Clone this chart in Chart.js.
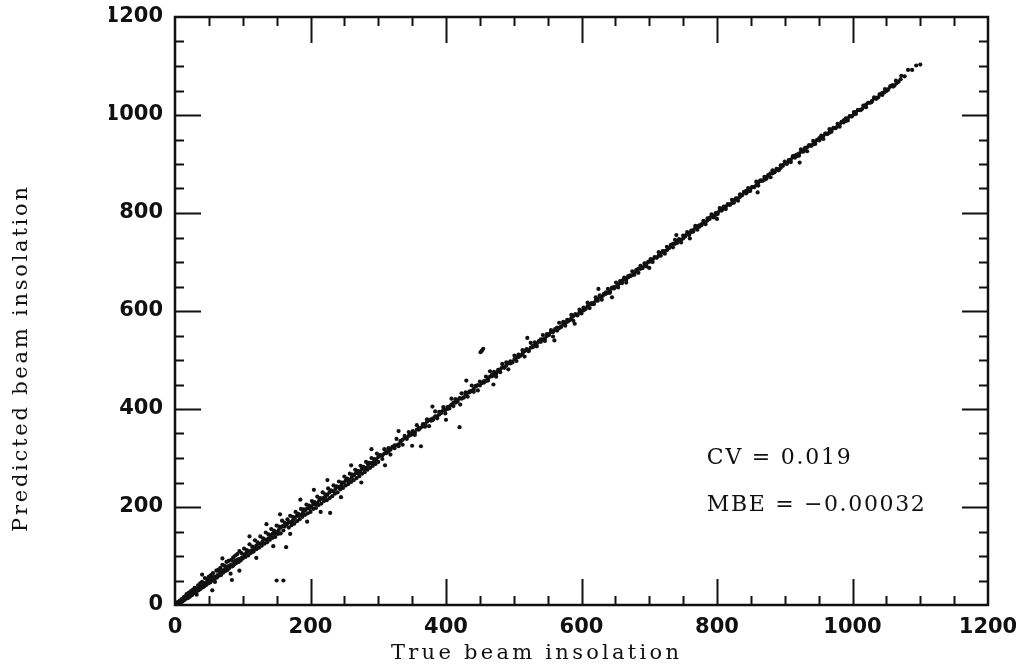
<!DOCTYPE html>
<html>
<head>
<meta charset="utf-8">
<script src="https://cdn.jsdelivr.net/npm/chart.js@4.4.0/dist/chart.umd.min.js"></script>
<style>
	html, body { margin: 0; padding: 0; background: #fff; }
	canvas { display: block; }
</style>
</head>
<body>
<canvas id="scatter" width="1016" height="667"></canvas>
<script>
// [true beam insolation, predicted beam insolation]
var bandLow = [
	[1,2],[3,1],[4,6],[5,3],[7,9],[8,4],[10,12],[11,7],[13,16],[14,10],[16,13],[17,22],[19,14],[20,25],[22,17],
	[23,28],[25,20],[26,31],[28,24],[29,35],[31,26],[32,21],[34,40],[35,30],[37,44],[38,33],[40,47],[41,36],
	[43,38],[44,55],[46,41],[47,53],[49,44],[50,58],[52,46],[53,61],[55,50],[56,65],[58,52],[59,47],[61,70],
	[62,56],[64,72],[65,60],[67,76],[68,61],[70,82],[71,66],[73,80],[74,69],[76,88],[77,71],[79,90],[80,75],
	[82,64],[83,92],[85,79],[86,97],[88,83],[89,101],[91,86],[92,104],[94,88],[95,110],[97,91],[98,106],
	[100,95],[102,115],[104,98],[106,112],[108,101],[110,124],[112,106],[114,119],[116,109],[118,132],
	[120,114],[122,128],[124,117],[126,140],[128,121],[130,136],[132,125],[134,148],[136,128],[138,144],
	[140,133],[142,155],[144,137],[146,152],[148,139],[150,162],[152,145],[154,160],[156,146],[158,172],
	[160,152],[162,168],[166,175],[168,158],[170,182],[172,163],[174,180],[176,166],[178,190],[180,171],
	[182,186],[184,175],[186,196],[188,180],[190,195],[192,184],[194,205],[196,187],[198,203],[200,190],
	[202,212],[204,196],[206,210],[208,198],[210,221],[212,204],[214,218],[216,207],[218,230],[220,212],
	[222,226],[224,214],[226,238],[228,218],[230,234],[232,222],[234,244],[236,227],[238,242],[240,230],
	[242,252],[244,236],[246,250],[248,239],[250,262],[252,244],[254,258],[256,247],[258,268],[260,251],
	[262,266],[264,255],[266,276],[268,259],[270,274],[272,263],[274,284],[276,268],[278,282],[280,271],
	[282,292],[284,276],[286,290],[288,280],[290,300],[292,284],[294,298],[296,288],[298,309],[300,292]
];
var bandMid = [
	[303,306],[306,298],[309,318],[312,310],[315,320],[318,307],[321,322],[324,320],[327,339],[330,324],
	[333,335],[336,327],[339,345],[342,339],[345,353],[348,347],[351,355],[354,347],[357,367],[360,358],
	[366,369],[369,364],[372,379],[375,365],[378,379],[381,378],[384,395],[387,381],[390,394],[393,392],
	[396,404],[399,391],[402,404],[405,401],[408,421],[411,406],[414,420],[417,415],[421,409],[423,432],
	[426,423],[429,434],[432,425],[435,436],[438,448],[441,435],[444,447],[447,438],[450,456],[456,454],
	[459,466],[462,458],[465,477],[468,467],[471,476],[474,466],[477,480],[480,475],[483,492],[486,484],
	[489,495],[492,481],[495,497],[498,495],[501,509],[504,498],[507,511],[510,509],[513,520],[516,507],
	[519,522],[522,518],[525,535],[528,526],[531,536],[534,528],[537,538],[540,537],[543,551],[546,539],
	[549,553],[552,551],[555,561],[558,548],[561,563],[564,560],[567,576],[570,568],[573,578],[576,570],
	[579,582],[582,581],[585,592],[588,580],[591,593],[594,591],[597,603],[600,595],[603,607],[606,604],
	[609,617],[612,606],[615,616],[618,614],[621,628],[624,621],[627,632],[630,623],[633,635],[636,635],
	[639,645],[642,637],[645,648],[648,646],[651,658],[654,648],[657,661],[660,657],[663,668],[666,658],
	[669,671],[672,671],[675,681],[678,674],[681,684],[684,678],[687,692],[690,688],[693,697],[696,691],[699,700]
];
var bandHigh = [
	[702,706],[705,700],[708,710],[711,709],[714,720],[717,713],[720,721],[723,717],[726,731],[729,728],
	[732,735],[735,730],[738,745],[741,739],[744,746],[747,740],[750,754],[753,752],[756,761],[759,755],
	[762,764],[765,762],[768,774],[771,766],[774,775],[777,775],[780,784],[783,777],[786,789],[789,788],
	[792,797],[795,791],[798,800],[801,798],[804,810],[807,805],[810,813],[813,808],[816,817],[819,817],
	[822,827],[825,821],[828,830],[831,825],[834,838],[837,836],[840,843],[843,840],[846,851],[849,845],
	[852,853],[855,853],[858,864],[861,856],[864,866],[867,866],[870,874],[873,870],[876,878],[879,873],
	[882,887],[885,883],[888,889],[891,887],[894,897],[897,896],[900,905],[903,900],[906,908],[909,904],
	[912,916],[915,913],[918,919],[921,917],[924,930],[927,926],[930,933],[933,926],[936,938],[939,937],
	[942,947],[945,941],[948,949],[951,948],[954,958],[957,951],[960,962],[963,962],[966,971],[969,966],
	[972,974],[975,973],[978,982],[981,976],[984,985],[987,985],[990,993],[993,989],[996,998],[999,998],
	[1002,1006],[1005,1002],[1008,1010],[1012,1010],[1016,1019],[1020,1016],[1024,1025],[1028,1026],
	[1032,1036],[1036,1035],[1040,1042],[1044,1041],[1048,1053],[1052,1051],[1056,1059],[1060,1058],
	[1064,1070],[1068,1068],[1072,1080],[1077,1079],[1082,1092],[1088,1092],[1094,1101],[1100,1103]
];
// points sitting almost on the diagonal, they make the dark core of the band
var bandCore = [
	[6,5],[12,11],[18,19],[24,22],[30,31],[36,35],[42,43],[48,47],[54,55],[60,58],[66,67],[72,71],[78,79],
	[84,83],[90,91],[96,94],[102,103],[108,109],[114,112],[120,121],[126,125],[132,134],[138,136],[144,145],
	[150,149],[156,158],[162,160],[168,169],[174,173],[180,182],[186,184],[192,193],[198,197],[204,206],
	[210,208],[216,217],[222,221],[228,230],[234,232],[240,241],[246,245],[252,254],[258,256],[264,265],
	[270,269],[276,278],[282,280],[288,289],[294,293],[300,302],[306,305],[312,313],[318,317],[324,326],
	[330,328],[336,337],[342,341],[348,350],[354,352],[360,361],[366,365],[372,374],[378,376],[384,385],
	[390,389],[396,398],[402,400],[408,409],[414,413],[420,422],[426,424],[432,433],[438,437],[444,446],
	[450,448],[456,457],[462,461],[468,470],[474,472],[480,481],[486,485],[492,494],[498,496],[504,505],
	[510,509],[516,518],[522,520],[528,529],[534,533],[540,542],[546,544],[552,553],[558,557],[564,566],
	[570,568],[576,577],[582,581],[588,590],[594,592],[600,601],[606,605],[612,614],[618,616],[624,625],
	[630,629],[636,638],[642,640],[648,649],[654,653],[660,662],[666,664],[672,673],[678,677],[684,686],
	[690,688],[696,697],[702,701],[708,709],[714,713],[720,722],[726,724],[732,733],[738,737],[744,746],
	[750,748],[756,757],[762,761],[768,770],[774,772],[780,781],[786,785],[792,794],[798,796],[804,805],
	[810,809],[816,818],[822,820],[828,829],[834,833],[840,842],[846,844],[852,853],[858,857],[864,866],
	[870,868],[876,877],[882,881],[888,890],[894,892],[900,901],[906,905],[912,914],[918,916],[924,925],
	[930,929],[936,938],[942,940],[948,949],[954,953],[960,962],[966,964],[972,973],[978,977],[984,986],
	[990,988],[996,997],[1002,1001],[1008,1010],[1014,1012],[1020,1021],[1026,1025],[1032,1034],
	[1038,1036],[1044,1045],[1050,1049],[1056,1058],[1062,1060]
];
var bandCore2 = [
	[3,4],[9,8],[15,17],[21,21],[27,25],[33,34],[39,38],[45,45],[51,53],[57,57],[63,61],[69,70],[75,74],
	[81,81],[87,89],[93,93],[99,97],[105,106],[111,110],[117,117],[123,125],[129,129],[135,133],[141,142],
	[147,146],[153,153],[159,161],[165,165],[171,169],[177,178],[183,182],[189,189],[195,197],[201,201],
	[207,205],[213,214],[219,218],[225,225],[231,233],[237,237],[243,241],[249,250],[255,254],[261,261],
	[267,269],[273,273],[279,277],[285,286],[291,290],[297,297],[303,305],[309,309],[315,313],[321,322],
	[327,326],[333,333],[339,341],[345,345],[351,349],[357,358],[363,362],[369,369],[375,377],[381,381],
	[387,385],[393,394],[399,398],[405,405],[411,413],[417,417],[423,421],[429,430],[435,434],[441,441],
	[447,449],[453,453],[459,457],[465,466],[471,470],[477,477],[483,485],[489,489],[495,493],[501,502],
	[507,506],[513,513],[519,521],[525,525],[531,529],[537,538],[543,542],[549,549],[555,557],[561,561],
	[567,565],[573,574],[579,578],[585,585],[591,593],[597,597],[603,601],[609,610],[615,614],[621,621],
	[627,629],[633,633],[639,637],[645,646],[651,650],[657,657],[663,665],[669,669],[675,673],[681,682],
	[687,686],[693,693],[699,701],[705,705],[711,709],[717,718],[723,722],[729,729],[735,737],[741,741],
	[747,745],[753,754],[759,758],[765,765],[771,773],[777,777],[783,781],[789,790],[795,794],[801,801],
	[807,809],[813,813],[819,817],[825,826],[831,830],[837,837],[843,845],[849,849],[855,853],[861,862],
	[867,866],[873,873],[879,881],[885,885],[891,889],[897,898],[903,902],[909,909],[915,917],[921,921],
	[927,925],[933,934],[939,938],[945,945],[951,953],[957,957],[963,961],[969,970],[975,974],[981,981],
	[987,989],[993,993],[999,997],[1005,1006],[1011,1010],[1017,1017],[1023,1025],[1029,1029],[1035,1033],
	[1041,1042],[1047,1046],[1053,1053],[1059,1061],[1065,1065],[1071,1073]
];
var scatterWide = [
	[40,62],[55,30],[70,95],[95,70],[110,140],[120,96],[135,165],[145,120],[155,185],[170,145],[185,215],
	[195,170],[205,235],[215,190],[225,255],[245,220],[260,285],[275,250],[290,318],[310,285],[330,355],
	[350,325],[380,405],[400,378],[430,458],[470,450],[520,545],[560,540],[625,645],[740,755],[800,788]
];
var outliers = [
	[84,51],[150,50],[160,50],[164,118],[229,188],[363,324],[420,363],[453,519],[455,523],[451,516],
	[590,574],[645,628],[700,688],[760,748],[860,842],[922,903]
];

var xTickLabels = ["0","200","400","600","800","1000","1200"];
var yTickLabels = ["0","200","400","600","800","1000","1200"];
var xTitle = "True beam insolation";
var yTitle = "Predicted beam insolation";
var notes = [
	{ text: "CV = 0.019", x: 785, y: 300 },
	{ text: "MBE = \u22120.00032", x: 785, y: 204 }
];

var allPoints = bandLow.concat(bandMid, bandHigh, bandCore, bandCore2, scatterWide, outliers)
	.map(p => ({ x: p[0], y: p[1] }));

// spread a text to a given width
function fillSpaced(ctx, text, x, y, width) {
	ctx.letterSpacing = '0px';
	let w = ctx.measureText(text).width;
	let sp = (width - w) / (text.length - 1);
	ctx.letterSpacing = sp + 'px';
	ctx.fillText(text, x, y);
	ctx.letterSpacing = '0px';
}

// ticks pointing inward on all four sides, plus the frame and texts
const frameTicks = {
	id: 'frameTicks',
	afterDraw(chart) {
		const ctx = chart.ctx, a = chart.chartArea;
		const xs = chart.scales.x, ys = chart.scales.y;
		ctx.save();
		ctx.strokeStyle = '#111';
		for (let v = 50; v < 1200; v += 50) {
			let major = v % 200 == 0;
			let len = major ? 26 : 9;
			ctx.lineWidth = 2;
			let px = Math.round(xs.getPixelForValue(v)) + 0.5;
			let py = Math.round(ys.getPixelForValue(v)) + 0.5;
			ctx.beginPath();
			ctx.moveTo(px, a.bottom); ctx.lineTo(px, a.bottom - len);
			ctx.moveTo(px, a.top); ctx.lineTo(px, a.top + len);
			ctx.moveTo(a.left, py); ctx.lineTo(a.left + len, py);
			ctx.moveTo(a.right, py); ctx.lineTo(a.right - len, py);
			ctx.stroke();
		}
		ctx.lineWidth = 2.5;
		ctx.strokeRect(a.left, a.top, a.right - a.left, a.bottom - a.top);

		ctx.fillStyle = '#111';
		ctx.font = '22px "DejaVu Serif"';
		ctx.textBaseline = 'middle';
		ctx.textAlign = 'left';
		fillSpaced(ctx, notes[0].text, xs.getPixelForValue(notes[0].x), ys.getPixelForValue(notes[0].y), 144);
		fillSpaced(ctx, notes[1].text, xs.getPixelForValue(notes[1].x), ys.getPixelForValue(notes[1].y), 218);

		ctx.font = '21px "DejaVu Serif"';
		fillSpaced(ctx, xTitle, 391, 654, 288);
		ctx.translate(22, 532);
		ctx.rotate(-Math.PI / 2);
		fillSpaced(ctx, yTitle, 0, 0, 345);
		ctx.restore();
	}
};

const ctxScatter = document.getElementById('scatter').getContext('2d');
const scatterChart = new Chart(ctxScatter, {
	type: 'scatter',
	data: {
		datasets: [{
			label: 'beam',
			data: allPoints,
			backgroundColor: '#111',
			borderColor: '#111',
			pointRadius: 2.1,
			pointBorderWidth: 0
		}]
	},
	options: {
		responsive: false,
		animation: false,
		layout: {
			padding: { left: 109, right: 28, top: 17, bottom: 22 }
		},
		plugins: {
			legend: { display: false },
			tooltip: { enabled: false }
		},
		scales: {
			x: {
				type: 'linear',
				min: 0,
				max: 1200,
				afterFit: (s) => { s.height = 40; s.paddingLeft = 0; s.paddingRight = 0; },
				grid: { display: false, drawTicks: false },
				border: { display: false },
				ticks: {
					stepSize: 200,
					padding: 10,
					maxRotation: 0,
					color: '#111',
					font: { family: '"DejaVu Sans"', size: 21, weight: 'bold' },
					callback: (v) => xTickLabels[v / 200]
				}
			},
			y: {
				type: 'linear',
				min: 0,
				max: 1200,
				afterFit: (s) => { s.width = 66; s.paddingTop = 0; s.paddingBottom = 0; },
				grid: { display: false, drawTicks: false },
				border: { display: false },
				ticks: {
					stepSize: 200,
					padding: 12,
					color: '#111',
					font: { family: '"DejaVu Sans"', size: 21, weight: 'bold' },
					callback: (v) => yTickLabels[v / 200]
				}
			}
		}
	},
	plugins: [frameTicks]
});
</script>
</body>
</html>
